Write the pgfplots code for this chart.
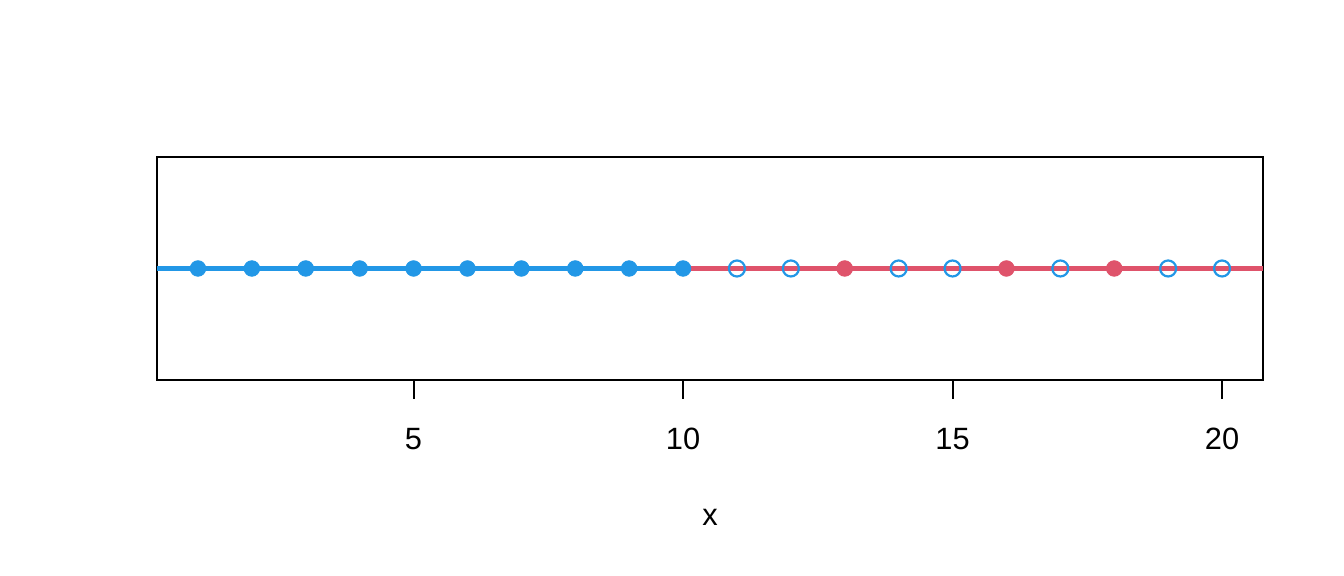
\documentclass[border=0pt]{standalone}
\usepackage{pgfplots}
\pgfplotsset{compat=1.18}
\usepackage{fontspec}
\setmainfont{Liberation Sans}
\definecolor{rblue}{HTML}{2297E6}
\definecolor{rred}{HTML}{DF536B}
\begin{document}
\fontsize{15.4}{18}\selectfont
\begin{tikzpicture}
\useasboundingbox (0,0) rectangle (672pt,288pt);
\begin{axis}[
  at={(78.5pt,98pt)}, anchor=south west,
  scale only axis, width=553pt, height=111.5pt,
  xmin=0.24, xmax=20.76, ymin=-1, ymax=1,
  axis line style={line width=1pt},
  xtick={5,10,15,20}, ytick=\empty,
  tick align=outside, tick pos=bottom,
  major tick length=9.5pt,
  every tick/.style={black, line width=1pt},
  xticklabel style={anchor=center, yshift=-20pt},
  /pgf/number format/assume math mode=true,
  xlabel={x},
  xlabel style={at={(axis description cs:0.5,0)}, anchor=center, yshift=-68.5pt},
  clip=false,
]
\addplot[rblue, line width=2.1pt] coordinates {(0.24,0) (10,0)};
\addplot[rred, line width=2.1pt] coordinates {(10,0) (20.76,0)};
\addplot[only marks, mark=*, mark size=3.9pt, rblue, mark options={fill=rblue, draw=rblue}] coordinates {(1,0) (2,0) (3,0) (4,0) (5,0) (6,0) (7,0) (8,0) (9,0) (10,0)};
\addplot[only marks, mark=*, mark size=3.9pt, rred, mark options={fill=rred, draw=rred}] coordinates {(13,0) (16,0) (18,0)};
\addplot[only marks, mark=o, mark size=4pt, rblue, mark options={line width=1.1pt, fill=none}] coordinates {(11,0) (12,0) (14,0) (15,0) (17,0) (19,0) (20,0)};
\end{axis}
\end{tikzpicture}
\end{document}
